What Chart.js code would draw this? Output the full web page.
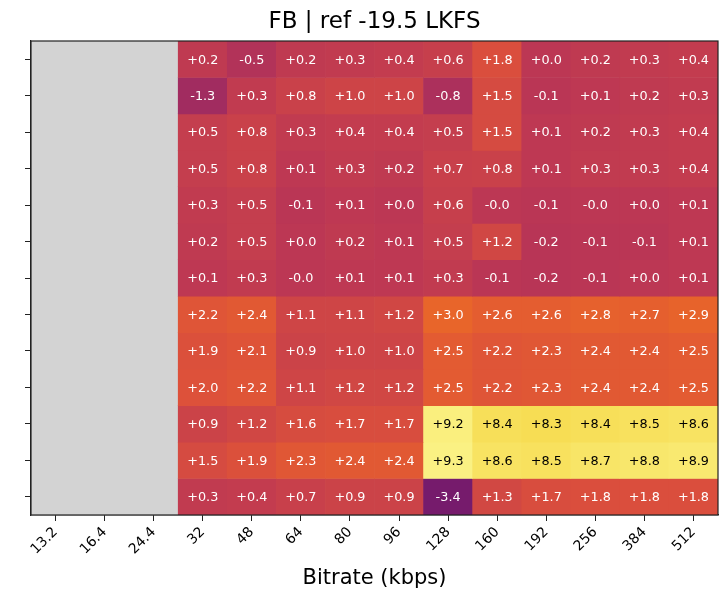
<!DOCTYPE html>
<html>
<head>
<meta charset="utf-8">
<script src="https://cdn.jsdelivr.net/npm/chart.js@4/dist/chart.umd.min.js"></script>
<style>
  html, body { margin: 0; padding: 0; background: #fff; }
  #wrap { width: 728px; height: 593px; }
</style>
</head>
<body>
<div id="wrap"><canvas id="myChart" width="728" height="593"></canvas></div>
<script>
// bitrates along x
var bitrates = ['13.2', '16.4', '24.4', '32', '48', '64', '80', '96', '128', '160', '192', '256', '384', '512'];

// one array per row, top to bottom (null = no data, shown grey)
var row1  = [null, null, null, 0.2, -0.5, 0.2, 0.3, 0.4, 0.6, 1.8, 0.0, 0.2, 0.3, 0.4];
var row2  = [null, null, null, -1.3, 0.3, 0.8, 1.0, 1.0, -0.8, 1.5, -0.1, 0.1, 0.2, 0.3];
var row3  = [null, null, null, 0.5, 0.8, 0.3, 0.4, 0.4, 0.5, 1.5, 0.1, 0.2, 0.3, 0.4];
var row4  = [null, null, null, 0.5, 0.8, 0.1, 0.3, 0.2, 0.7, 0.8, 0.1, 0.3, 0.3, 0.4];
var row5  = [null, null, null, 0.3, 0.5, -0.1, 0.1, 0.0, 0.6, -0.02, -0.1, -0.02, 0.0, 0.1];
var row6  = [null, null, null, 0.2, 0.5, 0.0, 0.2, 0.1, 0.5, 1.2, -0.2, -0.1, -0.1, 0.1];
var row7  = [null, null, null, 0.1, 0.3, -0.02, 0.1, 0.1, 0.3, -0.1, -0.2, -0.1, 0.0, 0.1];
var row8  = [null, null, null, 2.2, 2.4, 1.1, 1.1, 1.2, 3.0, 2.6, 2.6, 2.8, 2.7, 2.9];
var row9  = [null, null, null, 1.9, 2.1, 0.9, 1.0, 1.0, 2.5, 2.2, 2.3, 2.4, 2.4, 2.5];
var row10 = [null, null, null, 2.0, 2.2, 1.1, 1.2, 1.2, 2.5, 2.2, 2.3, 2.4, 2.4, 2.5];
var row11 = [null, null, null, 0.9, 1.2, 1.6, 1.7, 1.7, 9.2, 8.4, 8.3, 8.4, 8.5, 8.6];
var row12 = [null, null, null, 1.5, 1.9, 2.3, 2.4, 2.4, 9.3, 8.6, 8.5, 8.7, 8.8, 8.9];
var row13 = [null, null, null, 0.3, 0.4, 0.7, 0.9, 0.9, -3.4, 1.3, 1.7, 1.8, 1.8, 1.8];

var rows = [row1, row2, row3, row4, row5, row6, row7, row8, row9, row10, row11, row12, row13];

var titleText = 'FB | ref -19.5 LKFS';
var vmin = -10, vmax = 10;

// inferno colormap stops
var inferno = ['#000004', '#160b39', '#420a68', '#6a176e', '#932667', '#bc3754',
               '#dd513a', '#f37819', '#fca50a', '#f6d746', '#fcffa4'];

function hex(h){
  return [parseInt(h.substr(1,2),16), parseInt(h.substr(3,2),16), parseInt(h.substr(5,2),16)];
}

function colorFor(v){
  var t = (v - vmin) / (vmax - vmin);
  t = Math.max(0, Math.min(1, t));
  var p = t * (inferno.length - 1);
  var i = Math.min(Math.floor(p), inferno.length - 2);
  var f = p - i;
  var a = hex(inferno[i]), b = hex(inferno[i+1]);
  var c = a.map(function(x, k){ return Math.round(x + (b[k] - x) * f); });
  return 'rgb(' + c.join(',') + ')';
}

function fmt(v){
  return (v >= 0 ? '+' : '') + v.toFixed(1);
}

var datasets = rows.map(function(r, i){
  return {
    label: 'row ' + (i+1),
    data: r.map(function(v){ return v == null ? null : [i, i+1]; }),
    backgroundColor: r.map(function(v){ return v == null ? 'rgba(0,0,0,0)' : colorFor(v); }),
    borderWidth: 0,
    barPercentage: 1,
    categoryPercentage: 1,
    values: r
  };
});

var bgPlugin = {
  id: 'bg',
  beforeDatasetsDraw: function(chart){
    var a = chart.chartArea, ctx = chart.ctx;
    ctx.save();
    ctx.fillStyle = '#d3d3d3';
    ctx.fillRect(a.left, a.top, a.right - a.left, a.bottom - a.top);
    ctx.restore();
  },
  afterDatasetsDraw: function(chart){
    var ctx = chart.ctx;
    var a = chart.chartArea;
    ctx.save();
    ctx.font = '12.8px "DejaVu Sans"';
    ctx.textAlign = 'center';
    ctx.textBaseline = 'middle';
    chart.data.datasets.forEach(function(ds, di){
      var meta = chart.getDatasetMeta(di);
      meta.data.forEach(function(el, j){
        var v = ds.values[j];
        if (v == null) return;
        ctx.fillStyle = v > 6 ? '#000' : '#fff';
        ctx.fillText(fmt(v), el.x, (el.y + el.base) / 2 + 1);
      });
    });
    ctx.strokeStyle = '#222';
    ctx.lineWidth = 1.2;
    ctx.strokeRect(a.left, a.top, a.right - a.left, a.bottom - a.top);
    // title centred over the axes
    ctx.fillStyle = '#000';
    ctx.font = '23px "DejaVu Sans"';
    ctx.fillText(titleText, (a.left + a.right) / 2, 22);
    ctx.restore();
  }
};

var ctx = document.getElementById('myChart').getContext('2d');
var chart = new Chart(ctx, {
  type: 'bar',
  data: {
    labels: bitrates,
    datasets: datasets
  },
  options: {
    responsive: false,
    animation: false,
    layout: { padding: { left: 0, right: 10, top: 41, bottom: 0 } },
    plugins: {
      legend: { display: false },
      tooltip: { enabled: false },
      title: { display: false }
    },
    scales: {
      x: {
        stacked: true,
        offset: true,
        grid: { offset: false, drawOnChartArea: false, drawTicks: true, tickLength: 6, color: '#222' },
        border: { display: true, color: '#222', width: 1.2 },
        ticks: {
          color: '#000',
          font: { family: 'DejaVu Sans', size: 14 },
          minRotation: 45,
          maxRotation: 45,
          autoSkip: false,
          padding: 3
        },
        title: {
          display: true,
          text: 'Bitrate (kbps)',
          color: '#000',
          font: { family: 'DejaVu Sans', size: 21 },
          padding: { top: 2, bottom: 2 }
        },
        afterFit: function(scale){ scale.height = 78; }
      },
      y: {
        min: 0,
        max: 13,
        reverse: true,
        grid: { drawOnChartArea: false, drawTicks: true, tickLength: 6, color: '#222' },
        border: { display: true, color: '#222', width: 1.2 },
        afterBuildTicks: function(scale){
          scale.ticks = rows.map(function(r, i){ return { value: i + 0.5 }; });
        },
        ticks: {
          callback: function(){ return ''; },
          padding: 0
        },
        afterFit: function(scale){ scale.width = 31; }
      }
    }
  },
  plugins: [bgPlugin]
});
</script>
</body>
</html>
